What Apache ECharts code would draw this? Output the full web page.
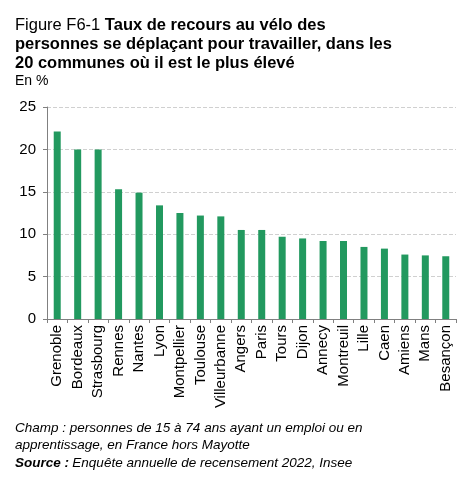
<!DOCTYPE html>
<html><head><meta charset="utf-8">
<script src="https://cdn.jsdelivr.net/npm/echarts@6/dist/echarts.min.js"></script>
<style>html,body{margin:0;padding:0;background:#fff}#c{width:474px;height:477px}</style>
</head><body><div id="c"></div>
<script>
const categories = ['Grenoble','Bordeaux','Strasbourg','Rennes','Nantes','Lyon','Montpellier','Toulouse','Villeurbanne','Angers','Paris','Tours','Dijon','Annecy','Montreuil','Lille','Caen','Amiens','Mans','Besançon'];
const values = [22.1,20.0,20.0,15.3,14.9,13.4,12.5,12.2,12.1,10.5,10.5,9.7,9.5,9.2,9.2,8.5,8.3,7.6,7.5,7.4];
const yTicks = [0,5,10,15,20,25];

const chart = echarts.init(document.getElementById('c'));
const F = 'Arial, "Liberation Sans", sans-serif';
chart.setOption({
  animation:false,
  title:{
    left:15, top:16, padding:0,
    text:'{n|Figure F6-1 }{b|Taux de recours au vélo des}\n{b|personnes se déplaçant pour travailler, dans les}\n{b|20 communes où il est le plus élevé}',
    textStyle:{
      rich:{
        n:{fontFamily:F,fontSize:16.5,fontWeight:'normal',color:'#000',lineHeight:19},
        b:{fontFamily:F,fontSize:16.5,fontWeight:'bold',color:'#000',lineHeight:19}
      }
    }
  },
  graphic:[
    {type:'text',left:15,top:74,style:{text:'En %',font:'14px '+F,fill:'#000'}},
    {type:'text',left:15,top:421,style:{text:'Champ : personnes de 15 à 74 ans ayant un emploi ou en',font:'italic 13.5px '+F,fill:'#000'}},
    {type:'text',left:15,top:438,style:{text:'apprentissage, en France hors Mayotte',font:'italic 13.5px '+F,fill:'#000'}},
    {type:'text',left:15,top:456,style:{
      text:'{b|Source :} {i|Enquête annuelle de recensement 2022, Insee}',
      rich:{b:{font:'italic bold 13.5px '+F,fill:'#000'},i:{font:'italic 13.5px '+F,fill:'#000'}}
    }}
  ],
  grid:{left:47,right:18,top:107,bottom:158,containLabel:false},
  xAxis:{
    type:'category', data:categories,
    axisLine:{lineStyle:{color:'#808080',width:1}},
    axisTick:{show:true,alignWithLabel:false,length:4,lineStyle:{color:'#808080'}},
    axisLabel:{rotate:90,interval:0,fontFamily:F,fontSize:15,color:'#000',margin:6}
  },
  yAxis:{
    type:'value', min:0, max:25, interval:5,
    axisLine:{show:true,lineStyle:{color:'#808080',width:1}},
    axisTick:{show:true,length:4,lineStyle:{color:'#808080'}},
    axisLabel:{fontFamily:F,fontSize:15,color:'#000',margin:11,
      formatter:v=>yTicks.includes(v)?String(v):''},
    splitLine:{lineStyle:{type:'dashed',color:'#d0d0d0',width:1}}
  },
  series:[{type:'bar',data:values,barWidth:7,itemStyle:{color:'#22995f'}}]
});
</script></body></html>
